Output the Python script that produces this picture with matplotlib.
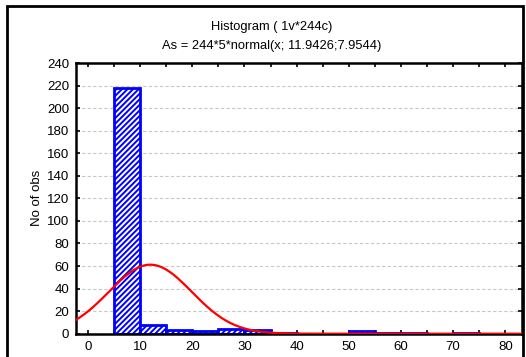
import numpy as np
import matplotlib
matplotlib.use("Agg")
import matplotlib.pyplot as plt
from matplotlib.patches import Rectangle

plt.rcParams['font.family'] = ['Liberation Sans', 'DejaVu Sans']
plt.rcParams['hatch.linewidth'] = 1.4

# histogram bins (left edges, width 5) and counts
bin_left = [5, 10, 15, 20, 25, 30, 35, 40, 45, 50, 55, 60, 65, 70, 75]
counts = [218, 8, 3, 2, 4, 3, 1, 0, 0, 2, 1, 1, 0, 1, 0]
bin_width = 5
n_total = 244
mu, sigma = 11.9426, 7.9544

xticks = [0, 10, 20, 30, 40, 50, 60, 70, 80]
yticks = [0, 20, 40, 60, 80, 100, 120, 140, 160, 180, 200, 220, 240]

fig = plt.figure(figsize=(5.26, 3.57), dpi=100)
ax = fig.add_axes([76/526, 1 - 333.7/357, (522 - 76)/526, (333.7 - 63)/357])

ax.bar(bin_left, counts, width=bin_width, align='edge', facecolor='white',
       edgecolor='#0000ff', hatch='//////', linewidth=2, zorder=2)

xs = np.linspace(-2.3, 83.2, 400)
ys = n_total * bin_width * np.exp(-0.5 * ((xs - mu) / sigma) ** 2) / (sigma * np.sqrt(2 * np.pi))
ax.plot(xs, ys, color='#ff0000', linewidth=1.6, zorder=3)

ax.set_xlim(-2.3, 83.2)
ax.set_ylim(0, 240)
ax.set_xticks(xticks)
ax.set_xticks(np.arange(0, 85, 5), minor=True)
ax.set_yticks(yticks)
ax.tick_params(axis='both', which='both', direction='in', length=3, width=1.2,
               top=True, right=True, labelsize=9.5, colors='black')
ax.tick_params(axis='x', which='major', pad=5)
ax.tick_params(axis='y', which='major', pad=5)
for y in yticks[1:-1]:
    ax.axhline(y, color='#c8c8c8', linestyle=(0, (3, 2)), linewidth=0.8, zorder=1)
for s in ax.spines.values():
    s.set_linewidth(1.8)
ax.set_ylabel('No of obs', fontsize=9.5)
ax.yaxis.set_label_coords(-0.075, 0.5)

fig.text(272/526, 1 - 27/357, 'Histogram ( 1v*244c)', ha='center', va='center', fontsize=9.3)
fig.text(272/526, 1 - 46/357, 'As = 244*5*normal(x; 11.9426;7.9544)', ha='center', va='center', fontsize=9.3)

fig.patches.append(Rectangle((7/526, -0.1), (523 - 7)/526, 1.1 - 6/357, transform=fig.transFigure,
                             fill=False, edgecolor='black', linewidth=2))

fig.savefig('out.png', dpi=100)
